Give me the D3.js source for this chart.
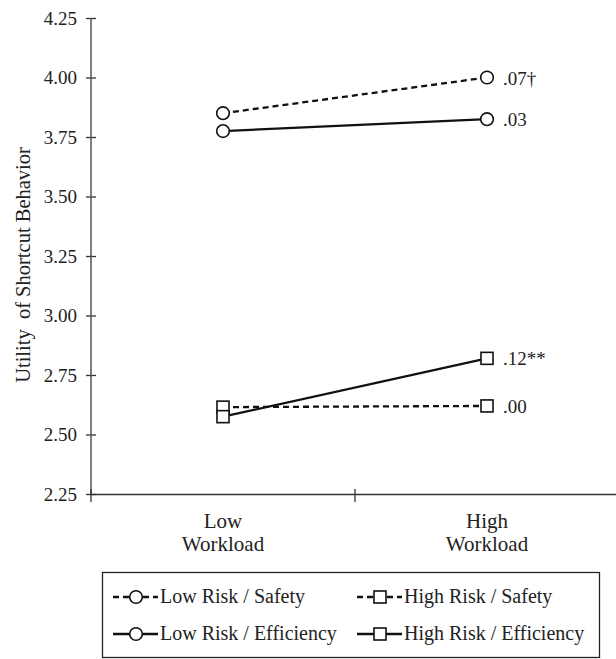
<!DOCTYPE html>
<html>
<head>
<meta charset="utf-8">
<script src="https://cdn.jsdelivr.net/npm/d3@7"></script>
<style>
  body { margin: 0; background: #fff; }
  text { font-family: "Liberation Serif", "Times New Roman", serif; }
</style>
</head>
<body>
<div id="chart"></div>
<script>
// data
var categories = ["Low Workload", "High Workload"];
var seriesNames = ["Low Risk / Safety", "Low Risk / Efficiency", "High Risk / Safety", "High Risk / Efficiency"];
var lowRiskSafety = [3.85, 4.00];
var lowRiskEfficiency = [3.775, 3.825];
var highRiskSafety = [2.615, 2.62];
var highRiskEfficiency = [2.575, 2.82];
var slopeLabels = [".07\u2020", ".03", ".00", ".12**"];
var yTicks = [2.25, 2.50, 2.75, 3.00, 3.25, 3.50, 3.75, 4.00, 4.25];

var series = [
  {name: seriesNames[0], values: lowRiskSafety, shape: "circle", dashed: true, label: slopeLabels[0]},
  {name: seriesNames[1], values: lowRiskEfficiency, shape: "circle", dashed: false, label: slopeLabels[1]},
  {name: seriesNames[2], values: highRiskSafety, shape: "square", dashed: true, label: slopeLabels[2]},
  {name: seriesNames[3], values: highRiskEfficiency, shape: "square", dashed: false, label: slopeLabels[3]}
];

var serif = "'Liberation Serif', 'Times New Roman', serif";
var width = 616, height = 659;

var svg = d3.select("#chart")
  .append("svg")
  .attr("width", width)
  .attr("height", height)
  .attr("font-family", serif);

var x = d3.scaleBand().domain(categories).range([91, 619]);
var y = d3.scaleLinear().domain([2.25, 4.25]).range([494, 18]);

// y axis
var yAxis = svg.append("g").attr("transform", "translate(91,0)")
  .call(d3.axisLeft(y).tickValues(yTicks).tickFormat(d3.format(".2f")).tickSize(5).tickPadding(9));
yAxis.attr("font-family", serif).attr("font-size", null);
yAxis.select(".domain").remove();
yAxis.append("line").attr("y1", y(4.25)).attr("y2", y(2.25) + 1)
  .attr("stroke", "#555").attr("stroke-width", 1.5);
yAxis.selectAll(".tick line").attr("x1", -5).attr("x2", 5).attr("stroke", "#333").attr("stroke-width", 1.3);
yAxis.selectAll(".tick text").attr("fill", "#222").attr("dy", "0.34em").style("font-size", "19px");

// x axis
var xg = svg.append("g");
xg.append("line").attr("x1", 91).attr("x2", width).attr("y1", 494.5).attr("y2", 494.5)
  .attr("stroke", "#333").attr("stroke-width", 1.3);
xg.selectAll("line.xt").data(categories).enter().append("line")
  .attr("class", "xt")
  .attr("x1", function(d) { return x(d); }).attr("x2", function(d) { return x(d); })
  .attr("y1", 489).attr("y2", 502)
  .attr("stroke", "#333").attr("stroke-width", 1.3);
var xl = xg.selectAll("text.xl").data(categories).enter().append("text")
  .attr("class", "xl")
  .attr("text-anchor", "middle")
  .attr("fill", "#222")
  .style("font-size", "21px")
  .attr("x", function(d) { return x(d) + x.bandwidth() / 2; });
xl.append("tspan").attr("y", 528).text(function(d) { return d.split(" ")[0]; });
xl.append("tspan").attr("y", 551)
  .attr("x", function(d) { return x(d) + x.bandwidth() / 2; })
  .text(function(d) { return d.split(" ")[1]; });

// y title
svg.append("text")
  .attr("transform", "translate(30,265) rotate(-90)")
  .attr("text-anchor", "middle")
  .attr("fill", "#222")
  .style("font-size", "20.5px")
  .text("Utility\u00a0 of Shortcut Behavior");

function cx(i) { return x(categories[i]) + x.bandwidth() / 2; }

function drawMarker(g, shape, px, py) {
  if (shape == "circle") {
    g.append("circle").attr("cx", px).attr("cy", py).attr("r", 6.3)
      .attr("fill", "#fff").attr("stroke", "#111").attr("stroke-width", 1.6);
  } else {
    g.append("rect").attr("x", px - 6).attr("y", py - 6).attr("width", 12).attr("height", 12)
      .attr("fill", "#fff").attr("stroke", "#111").attr("stroke-width", 1.6);
  }
}

var line = d3.line().x(function(d, i) { return cx(i); }).y(function(d) { return y(d); });

// lines first, then markers
series.forEach(function(s) {
  svg.append("path").datum(s.values)
    .attr("d", line)
    .attr("fill", "none")
    .attr("stroke", "#111")
    .attr("stroke-width", 2.3)
    .attr("stroke-dasharray", s.dashed ? "6,4" : null);
});
series.forEach(function(s) {
  var g = svg.append("g");
  s.values.forEach(function(v, i) { drawMarker(g, s.shape, cx(i), y(v)); });
  svg.append("text")
    .attr("x", cx(1) + 16)
    .attr("y", y(s.values[1]) + 7)
    .attr("fill", "#222")
    .style("font-size", "19px")
    .text(s.label);
});

// legend
var lg = svg.append("g");
lg.append("rect").attr("x", 102.5).attr("y", 572.5).attr("width", 497).attr("height", 85)
  .attr("fill", "#fff").attr("stroke", "#222").attr("stroke-width", 1.3);
var legendPos = [
  {x: 113, y: 597}, {x: 113, y: 634}, {x: 357, y: 597}, {x: 357, y: 634}
];
series.forEach(function(s, i) {
  var p = legendPos[i];
  var g = lg.append("g");
  g.append("line").attr("x1", p.x).attr("x2", p.x + 45).attr("y1", p.y).attr("y2", p.y)
    .attr("stroke", "#111").attr("stroke-width", 2.3)
    .attr("stroke-dasharray", s.dashed ? "6,4" : null);
  drawMarker(g, s.shape, p.x + 23, p.y);
  g.append("text").attr("x", p.x + 47).attr("y", p.y + 6)
    .attr("fill", "#222").style("font-size", "20px").text(s.name);
});
</script>
</body>
</html>
